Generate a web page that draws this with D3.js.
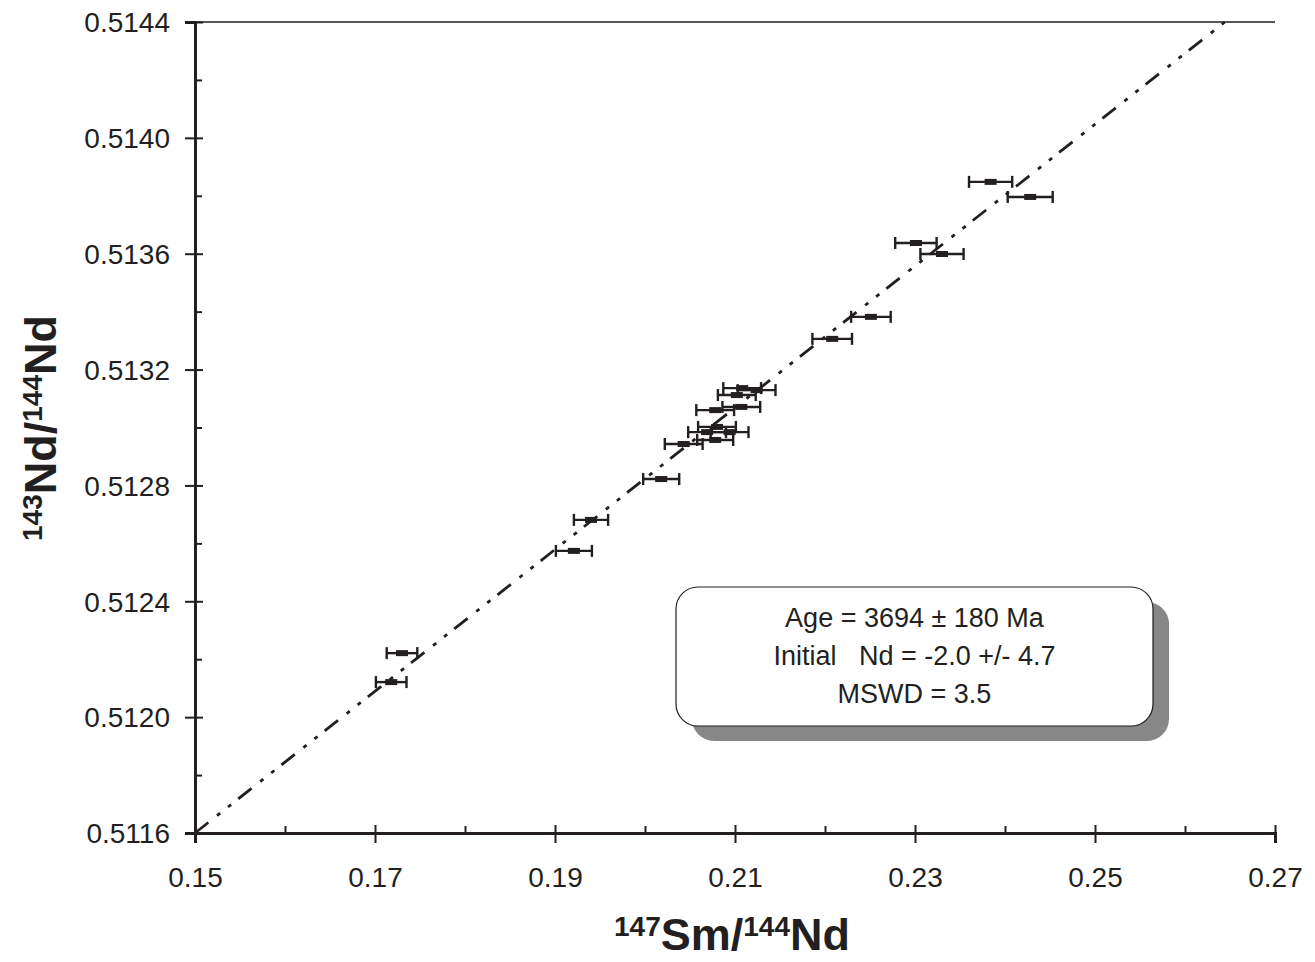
<!DOCTYPE html>
<html>
<head>
<meta charset="utf-8">
<script src="https://cdn.jsdelivr.net/npm/d3@7"></script>
<style>
  body { margin: 0; background: #fff; }
  svg { display: block; }
  text { font-family: "Liberation Sans", Arial, sans-serif; fill: #231f20; }
</style>
</head>
<body>
<svg id="chart"></svg>
<script>
// 147Sm/144Nd vs 143Nd/144Nd
var smNd = [0.2384, 0.2428, 0.2301, 0.2330, 0.2251, 0.2208, 0.2108, 0.2124, 0.2102, 0.2107,
            0.2078, 0.2080, 0.2069, 0.2094, 0.2078, 0.2043, 0.2018, 0.1940, 0.1921, 0.1730, 0.1718];
var ndNd = [0.513848, 0.513796, 0.513637, 0.513599, 0.513382, 0.513306, 0.513136, 0.513129, 0.513112, 0.513071,
            0.513060, 0.513002, 0.512984, 0.512984, 0.512957, 0.512943, 0.512822, 0.512681, 0.512574, 0.512221, 0.512121];
var smNdErr = [0.0024, 0.0025, 0.0023, 0.0024, 0.0022, 0.0022, 0.0021, 0.0021, 0.0021, 0.0021,
               0.0021, 0.0021, 0.0021, 0.0021, 0.0020, 0.0021, 0.0020, 0.0019, 0.0020, 0.0017, 0.0017];

var isochronSlope = 0.02447;
var isochronIntercept = 0.5079295;

var xTicks = [0.15, 0.17, 0.19, 0.21, 0.23, 0.25, 0.27];
var xMinorTicks = [0.16, 0.18, 0.20, 0.22, 0.24, 0.26];
var yTicks = [0.5116, 0.5120, 0.5124, 0.5128, 0.5132, 0.5136, 0.5140, 0.5144];
var yMinorTicks = [0.5118, 0.5122, 0.5126, 0.5130, 0.5134, 0.5138, 0.5142];

var statsLines = ["Age = 3694 \u00b1 180 Ma", "Initial \u00a0 Nd = -2.0 +/- 4.7", "MSWD = 3.5"];

var width = 1315, height = 962;
var margin = {top: 22, right: 40, bottom: 129, left: 195};
var ink = "#231f20";

var svg = d3.select("#chart")
  .attr("width", width)
  .attr("height", height);

var x = d3.scaleLinear().domain([0.15, 0.27]).range([margin.left, width - margin.right]);
var y = d3.scaleLinear().domain([0.5116, 0.5144]).range([height - margin.bottom, margin.top]);

// top frame line
svg.append("line")
  .attr("x1", x(0.15)).attr("x2", x(0.27))
  .attr("y1", y(0.5144)).attr("y2", y(0.5144))
  .attr("stroke", ink).attr("stroke-width", 1.5);

// isochron
var xEnd = (0.5144 - isochronIntercept) / isochronSlope;
var fit = [0.15, xEnd].map(function(v){ return [v, isochronIntercept + isochronSlope * v]; });
svg.append("path")
  .datum(fit)
  .attr("d", d3.line().x(function(d){ return x(d[0]); }).y(function(d){ return y(d[1]); }))
  .attr("fill", "none")
  .attr("stroke", ink)
  .attr("stroke-width", 2.8)
  .attr("stroke-dasharray", "17,11,4,10,4,9");

// x axis
var xAxisG = svg.append("g")
  .attr("transform", "translate(0," + y(0.5116) + ")")
  .call(d3.axisBottom(x).tickValues(xTicks).tickSize(10).tickFormat(d3.format(".2f")));
xAxisG.select(".domain").attr("stroke", ink).attr("stroke-width", 3);
xAxisG.selectAll(".tick line").attr("y1", -8).attr("stroke", ink).attr("stroke-width", 2);
xAxisG.selectAll(".tick text").attr("y", 34).attr("dy", "0.71em")
  .style("font-size", "28px").attr("fill", ink);
svg.append("g")
  .attr("transform", "translate(0," + y(0.5116) + ")")
  .call(d3.axisBottom(x).tickValues(xMinorTicks).tickSize(-7).tickFormat(""))
  .call(function(g){
    g.select(".domain").remove();
    g.selectAll(".tick line").attr("stroke", ink).attr("stroke-width", 2);
  });

// y axis
var yAxisG = svg.append("g")
  .attr("transform", "translate(" + x(0.15) + ",0)")
  .call(d3.axisLeft(y).tickValues(yTicks).tickSize(10).tickFormat(d3.format(".4f")));
yAxisG.select(".domain").attr("stroke", ink).attr("stroke-width", 3);
yAxisG.selectAll(".tick line").attr("x1", 8).attr("stroke", ink).attr("stroke-width", 2);
yAxisG.selectAll(".tick text").attr("x", -25).attr("dy", "0.35em")
  .style("font-size", "28px").attr("fill", ink);
svg.append("g")
  .attr("transform", "translate(" + x(0.15) + ",0)")
  .call(d3.axisLeft(y).tickValues(yMinorTicks).tickSize(-7).tickFormat(""))
  .call(function(g){
    g.select(".domain").remove();
    g.selectAll(".tick line").attr("stroke", ink).attr("stroke-width", 2);
  });

// data points with x error bars
var pts = smNd.map(function(v, i){ return {x: v, y: ndNd[i], ex: smNdErr[i]}; });
var pg = svg.append("g").attr("stroke", ink).attr("stroke-width", 2.4);
var p = pg.selectAll("g.pt").data(pts).enter().append("g").attr("class", "pt");
p.append("line")
  .attr("x1", function(d){ return x(d.x - d.ex); })
  .attr("x2", function(d){ return x(d.x + d.ex); })
  .attr("y1", function(d){ return y(d.y); })
  .attr("y2", function(d){ return y(d.y); });
p.append("line")
  .attr("x1", function(d){ return x(d.x - d.ex); })
  .attr("x2", function(d){ return x(d.x - d.ex); })
  .attr("y1", function(d){ return y(d.y) - 6; })
  .attr("y2", function(d){ return y(d.y) + 6; });
p.append("line")
  .attr("x1", function(d){ return x(d.x + d.ex); })
  .attr("x2", function(d){ return x(d.x + d.ex); })
  .attr("y1", function(d){ return y(d.y) - 6; })
  .attr("y2", function(d){ return y(d.y) + 6; });
p.append("rect")
  .attr("x", function(d){ return x(d.x) - 6; })
  .attr("y", function(d){ return y(d.y) - 3; })
  .attr("width", 12).attr("height", 6)
  .attr("stroke", "none").attr("fill", ink);

// stats box
var box = {x: 676, y: 587, w: 477, h: 139};
svg.append("rect")
  .attr("x", box.x + 16).attr("y", box.y + 15)
  .attr("width", box.w).attr("height", box.h)
  .attr("rx", 22).attr("fill", "#878787");
svg.append("rect")
  .attr("x", box.x).attr("y", box.y)
  .attr("width", box.w).attr("height", box.h)
  .attr("rx", 22).attr("fill", "#fff")
  .attr("stroke", ink).attr("stroke-width", 1.2);
svg.selectAll("text.stat").data(statsLines).enter().append("text")
  .attr("class", "stat")
  .attr("x", box.x + box.w / 2)
  .attr("y", function(d, i){ return box.y + 40 + i * 38; })
  .attr("text-anchor", "middle")
  .style("font-size", "27px")
  .style("white-space", "pre")
  .text(function(d){ return d; });

// axis titles
var xt = svg.append("text")
  .attr("x", 732)
  .attr("y", 950)
  .attr("text-anchor", "middle")
  .style("font-weight", "bold")
  .style("font-size", "45px");
xt.append("tspan").text("147").style("font-size", "28px").attr("dy", -14);
xt.append("tspan").text("Sm/").attr("dy", 14);
xt.append("tspan").text("144").style("font-size", "28px").attr("dy", -14);
xt.append("tspan").text("Nd").attr("dy", 14);

var yt = svg.append("text")
  .attr("transform", "translate(56," + 428 + ") rotate(-90)")
  .attr("text-anchor", "middle")
  .style("font-weight", "bold")
  .style("font-size", "45px");
yt.append("tspan").text("143").style("font-size", "28px").attr("dy", -14);
yt.append("tspan").text("Nd/").attr("dy", 14);
yt.append("tspan").text("144").style("font-size", "28px").attr("dy", -14);
yt.append("tspan").text("Nd").attr("dy", 14);
</script>
</body>
</html>
